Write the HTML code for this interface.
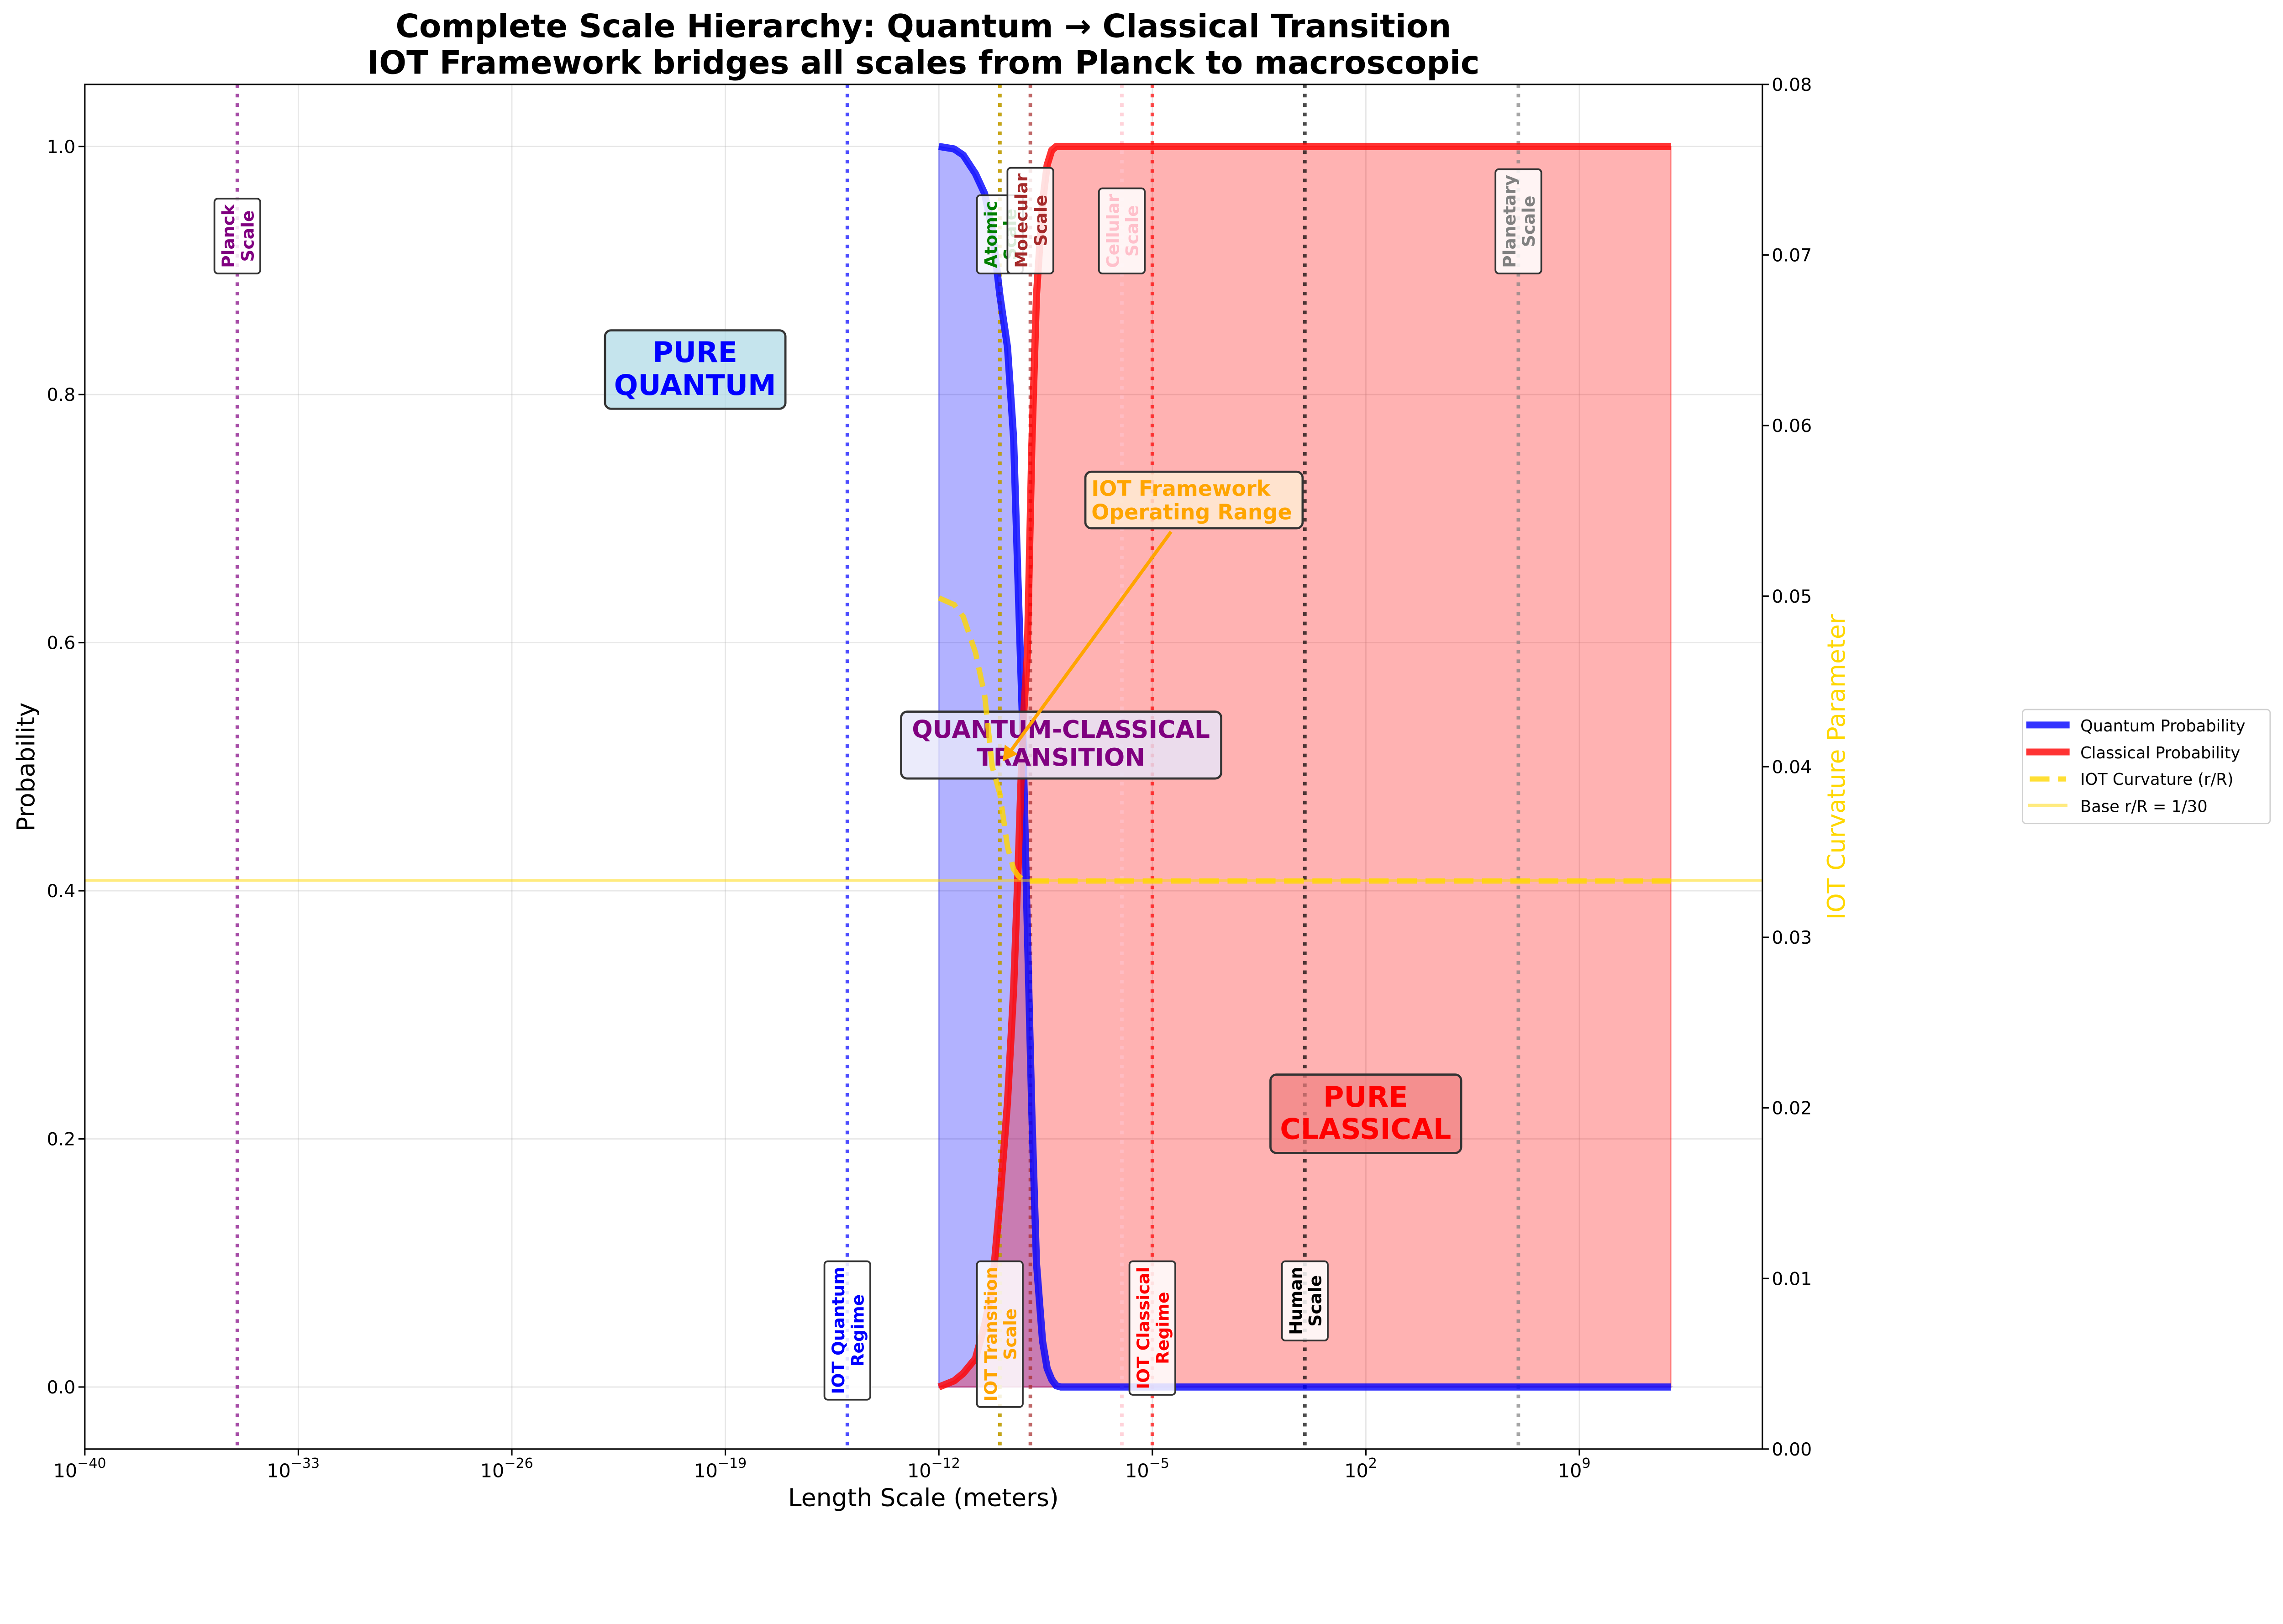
<!DOCTYPE html>
<html><head><meta charset="utf-8"><style>
html,body{margin:0;padding:0;background:#fff;overflow:hidden}
svg{display:block;width:100vw;height:calc(100vw * 3557 / 5328)}
text{font-family:"DejaVu Sans","Liberation Sans",sans-serif}
</style></head><body>
<svg id="chart" xmlns="http://www.w3.org/2000/svg" viewBox="0 0 5328 3557" preserveAspectRatio="xMinYMin meet">
<rect width="5328" height="3557" fill="#fff"/>
<g id="grid"></g>
<g id="fills"></g>
<g id="vlines"></g>
<g id="curves"></g>
<g id="labels"></g>
<g id="annots"></g>
<g id="ax2"></g>
<g id="axes"></g>
<text x="2155" y="87" font-size="75" font-weight="bold" text-anchor="middle">Complete Scale Hierarchy: Quantum → Classical Transition</text>
<text x="2155" y="172" font-size="75" font-weight="bold" text-anchor="middle">IOT Framework bridges all scales from Planck to macroscopic</text>
<text x="2155" y="3515" font-size="57" text-anchor="middle">Length Scale (meters)</text>
<text transform="translate(80,1790) rotate(-90)" font-size="57" text-anchor="middle">Probability</text>
<text transform="translate(4305,1790) rotate(-90)" font-size="57" fill="#ffd700" text-anchor="middle">IOT Curvature Parameter</text>
<g>
<rect x="4720" y="1656" width="578" height="266" rx="8" fill="#fff" fill-opacity="0.8" stroke="#d0d0d0" stroke-width="3"/>
<g><line x1="4729" y1="1692" x2="4830" y2="1692" stroke="#3333ff" stroke-width="16"/><text x="4855" y="1707" font-size="37.5">Quantum Probability</text></g>
<g><line x1="4729" y1="1755" x2="4830" y2="1755" stroke="#ff3333" stroke-width="16"/><text x="4855" y="1770" font-size="37.5">Classical Probability</text></g>
<g><line x1="4737" y1="1818" x2="4822" y2="1818" stroke="#ffdf33" stroke-width="12" stroke-dasharray="46 20"/><text x="4855" y="1832" font-size="37.5">IOT Curvature (r/R)</text></g>
<g><line x1="4733" y1="1880" x2="4825" y2="1880" stroke="#ffd700" stroke-opacity="0.5" stroke-width="8"/><text x="4855" y="1895" font-size="37.5">Base r/R = 1/30</text></g>
</g>
</svg>
<script>
// ---- data ----
const logLength = [-12,-11.5,-11.2,-10.8,-10.5,-10.25,-10.0,-9.75,-9.55,-9.4,-9.25,-9.1,-8.95,-8.8,-8.6,-8.45,-8.3,-8.15,-8.0,-7,0,12];
const quantumProb = [1.0,0.998,0.993,0.978,0.962,0.933,0.88,0.838,0.765,0.645,0.53,0.37,0.22,0.10,0.037,0.015,0.006,0.001,0,0,0,0];
const classicalProb = [0,0.005,0.011,0.023,0.05,0.08,0.15,0.23,0.32,0.42,0.53,0.59,0.76,0.88,0.955,0.985,0.997,1,1,1,1,1];
const curvature = [0.0499,0.0495,0.0488,0.0467,0.0442,0.0400,0.0384,0.0353,0.0340,0.0336,0.0334,0.0333,0.0333,0.0333,0.0333,0.0333,0.0333,0.0333,0.0333,0.0333,0.0333,0.0333];
const baseRatio = 1/30;
const scaleNames = ["Planck\nScale","IOT Quantum\nRegime","Atomic\nScale","IOT Transition\nScale","Molecular\nScale","Cellular\nScale","IOT Classical\nRegime","Human\nScale","Planetary\nScale"];
const scaleLogs = [-35,-15,-10,-10,-9,-6,-5,0,7];
const scaleColors = ["purple","blue","green","orange","brown","pink","red","black","gray"];
const scaleAtTop = [true,false,true,false,true,true,false,false,true];
const xTickLogs = [-40,-33,-26,-19,-12,-5,2,9];
const yTicks = [0,0.2,0.4,0.6,0.8,1.0];
const y2Ticks = [0,0.01,0.02,0.03,0.04,0.05,0.06,0.07,0.08];

// ---- axes ----
const L=198,R=4113,T=197,B=3382;
const xMin=-40,xMax=15,yMin=-0.05,yMax=1.05,y2Max=0.08;
const X=v=>L+(v-xMin)/(xMax-xMin)*(R-L);
const Y=v=>B-(v-yMin)/(yMax-yMin)*(B-T);
const Y2=v=>B-v/y2Max*(B-T);
const NS='http://www.w3.org/2000/svg';
function mk(tag,attrs,parent){const e=document.createElementNS(NS,tag);for(const k in attrs)e.setAttribute(k,attrs[k]);parent.appendChild(e);return e;}
const $=id=>document.getElementById(id);

const grid=$('grid');
xTickLogs.forEach(v=>{const g=mk('line',{x1:X(v),x2:X(v),y1:T,y2:B,stroke:'#b0b0b0','stroke-opacity':0.3,'stroke-width':3},grid);

});
yTicks.forEach(v=>{const g=mk('line',{x1:L,x2:R,y1:Y(v),y2:Y(v),stroke:'#b0b0b0','stroke-opacity':0.3,'stroke-width':3},grid);

});

function pathOf(vals,yf){return logLength.map((lx,i)=>(i?'L':'M')+X(lx).toFixed(1)+' '+yf(vals[i]).toFixed(1)).join(' ');}
function fillOf(vals){return pathOf(vals,Y)+' L'+X(logLength[logLength.length-1])+' '+Y(0)+' L'+X(logLength[0])+' '+Y(0)+' Z';}

const fills=$('fills');
const fq=mk('path',{d:fillOf(quantumProb),fill:'#0000ff','fill-opacity':0.3,stroke:'#0000ff','stroke-opacity':0.3,'stroke-width':3},fills);


const fc=mk('path',{d:fillOf(classicalProb),fill:'#ff0000','fill-opacity':0.3,stroke:'#ff0000','stroke-opacity':0.3,'stroke-width':3},fills);



const curves=$('curves');
const cq=mk('path',{d:pathOf(quantumProb,Y),fill:'none',stroke:'#0000ff','stroke-opacity':0.8,'stroke-width':16.7,'stroke-linejoin':'round'},curves);


const cc=mk('path',{d:pathOf(classicalProb,Y),fill:'none',stroke:'#ff0000','stroke-opacity':0.8,'stroke-width':16.7,'stroke-linejoin':'round'},curves);



const vl=$('vlines'),lab=$('labels');
scaleLogs.forEach((lx,i)=>{
  const ln=mk('line',{x1:X(lx),x2:X(lx),y1:T,y2:B,stroke:scaleColors[i],'stroke-opacity':0.7,'stroke-width':8.3,'stroke-dasharray':'8.3 13.7'},vl);
  
  
});
scaleLogs.forEach((lx,i)=>{
  const g=mk('g',{},lab);
  
  
  const cx=X(lx), fs=40, lines=scaleNames[i].split('\n');
  const gt=mk('g',{transform:'translate('+cx+',0) rotate(-90)'},g);
  const rect=mk('rect',{rx:8,fill:'#fff','fill-opacity':0.85,stroke:'#333','stroke-width':4},gt);
  const t=mk('text',{'font-size':fs,'font-weight':'bold','fill':scaleColors[i],'text-anchor':'middle'},gt);
  lines.forEach((s,j)=>{const ts=mk('tspan',{x:0,y:(j===0?-7:38)},t);ts.textContent=s;});
  const w=Math.max(...Array.from(t.childNodes).map(n=>n.getComputedTextLength()));
  const h=w+26;
  const cy = scaleAtTop[i] ? (Y(0.9)+7 - h/2) : (Y(0.1)+h/2 - 4);
  rect.setAttribute('x',-cy-h/2);rect.setAttribute('y',-53.5);rect.setAttribute('width',h);rect.setAttribute('height',107);
  Array.from(t.childNodes).forEach(n=>n.setAttribute('x',-cy));
});

const an=$('annots');
function box(name,x,y,w,h,fill,op){const r=mk('rect',{x:x,y:y,width:w,height:h,rx:14,fill:fill,'fill-opacity':op,stroke:'#333','stroke-width':5},an);

return r;}
function txt(name,x,y,s,fs,fill,anchor){const t=mk('text',{x:x,y:y,'font-size':fs,'font-weight':'bold',fill:fill,'text-anchor':anchor||'middle'},an);t.textContent=s;

return t;}
box('pure-quantum-box',1412,771,421,183,'#add8e6',0.7);
txt('pure-quantum-label',1622,845,'PURE',66,'blue');
txt('pure-quantum-label',1622,922,'QUANTUM',66,'blue');
box('pure-classical-box',2965,2508,445,183,'#f08080',0.7);
txt('pure-classical-label',3187,2583,'PURE',66,'red');
txt('pure-classical-label',3187,2658,'CLASSICAL',66,'red');
box('transition-box',2103,1661,747,156,'#e6e6fa',0.8);
txt('transition-label',2476,1722,'QUANTUM-CLASSICAL',57,'purple');
txt('transition-label',2476,1787,'TRANSITION',57,'purple');
const arr=mk('line',{x1:2733,y1:1241,x2:2352,y2:1762,stroke:'orange','stroke-width':8},an);


const ah=mk('path',{d:'M2340 1777 L2345 1738 L2375 1760 Z',fill:'orange'},an);


box('iot-range-box',2533,1101,507,132,'#ffefd5',0.8);
txt('iot-range-label',2547,1157,'IOT Framework',49,'orange','start');
txt('iot-range-label',2547,1212,'Operating Range',49,'orange','start');

const a2=$('ax2');
const bl=mk('line',{x1:L,x2:R,y1:Y2(baseRatio),y2:Y2(baseRatio),stroke:'#ffd700','stroke-opacity':0.5,'stroke-width':6},a2);


const cv=mk('path',{d:pathOf(curvature,Y2),fill:'none',stroke:'#ffd700','stroke-opacity':0.8,'stroke-width':12.5,'stroke-dasharray':'46 20'},a2);



const ax=$('axes');
mk('rect',{x:L,y:T,width:R-L,height:B-T,fill:'none',stroke:'#000','stroke-width':3.3},ax);
xTickLogs.forEach(v=>{mk('line',{x1:X(v),x2:X(v),y1:B,y2:B+15,stroke:'#000','stroke-width':3.3},ax);
  const t=mk('text',{x:X(v)-12,y:3448,'font-size':44,'text-anchor':'middle'},ax);
  
  
  t.appendChild(document.createTextNode('10'));
  const s=mk('tspan',{dy:-22,'font-size':32},t);s.textContent='\u2212'+Math.abs(v);
  if(v>=0)s.textContent=String(v);
});
yTicks.forEach(v=>{mk('line',{x1:L-15,x2:L,y1:Y(v),y2:Y(v),stroke:'#000','stroke-width':3.3},ax);
  const t=mk('text',{x:L-22,y:Y(v)+15,'font-size':42,'text-anchor':'end'},ax);t.textContent=v.toFixed(1);
  
  });
y2Ticks.forEach(v=>{mk('line',{x1:R,x2:R+15,y1:Y2(v),y2:Y2(v),stroke:'#000','stroke-width':3.3},ax);
  const t=mk('text',{x:R+22,y:Y2(v)+15,'font-size':42,'text-anchor':'start'},ax);t.textContent=v.toFixed(2);
  
  });
</script>
</body></html>
